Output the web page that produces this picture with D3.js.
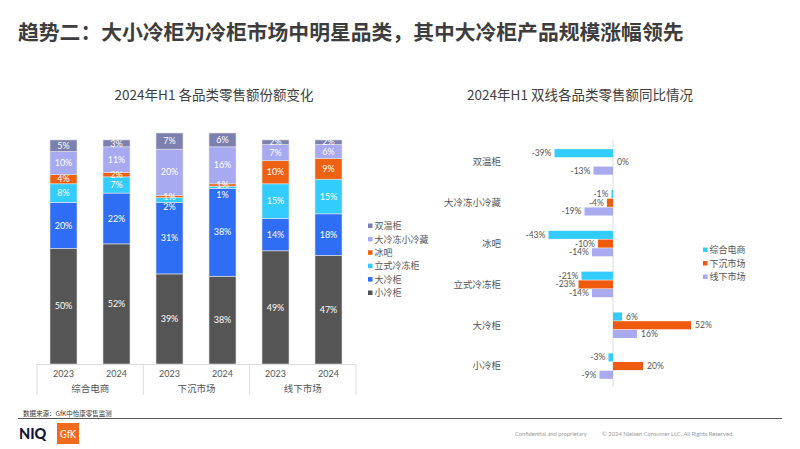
<!DOCTYPE html>
<html><head><meta charset="utf-8">
<script src="https://cdn.jsdelivr.net/npm/d3@7"></script>
<style>
body{margin:0;background:#fff;}
svg{display:block;font-family:"Noto Sans CJK SC","Noto Sans",sans-serif;}
.num{font-family:Lato,"Noto Sans CJK SC",sans-serif;}
</style></head>
<body>
<svg id="c" width="800" height="449"></svg>
<script>
// ---- Left chart data ----
const groups = ["综合电商", "下沉市场", "线下市场"];
const years = ["2023", "2024"];
const seriesNames = ["小冷柜", "大冷柜", "立式冷冻柜", "冰吧", "大冷冻小冷藏", "双温柜"];
const xiaoLengGui = [50, 52, 39, 38, 49, 47];
const daLengGui = [20, 22, 31, 38, 14, 18];
const liShiLengDong = [8, 7, 2, 1, 15, 15];
const bingBa = [4, 2, 1, 1, 10, 9];
const daLengDongXiao = [10, 11, 20, 16, 7, 6];
const shuangWenGui = [5, 3, 7, 6, 2, 2];
const seriesColors = ["#555555", "#2F6DF5", "#33CCFF", "#EF6112", "#A7A9F1", "#7C80AE"];

// ---- Right chart data ----
const rCategories = ["双温柜", "大冷冻小冷藏", "冰吧", "立式冷冻柜", "大冷柜", "小冷柜"];
const rSeriesNames = ["综合电商", "下沉市场", "线下市场"];
const zongHeDianShang = [-39, -1, -43, -21, 6, -3];
const xiaChenShiChang = [0, -4, -10, -23, 52, 20];
const xianXiaShiChang = [-13, -19, -14, -14, 16, -9];
const rColors = ["#33CCFF", "#EE5A0E", "#A9AAF0"];

const svg = d3.select("#c");

// Slide title
svg.append("text").attr("x", 18).attr("y", 40)
  .attr("font-size", 20.8).attr("font-weight", "bold").attr("fill", "#3d3d3d")
  .text("趋势二：大小冷柜为冷柜市场中明星品类，其中大冷柜产品规模涨幅领先");

// ================= Left chart =================
svg.append("text").attr("x", 214).attr("y", 100).attr("text-anchor", "middle")
  .attr("font-size", 13.5).attr("fill", "#404040").text("2024年H1 各品类零售额份额变化");

const barKeys = [];
groups.forEach(g => years.forEach(y => barKeys.push(g + "|" + y)));
const x = d3.scaleBand().domain(barKeys).range([37, 355]).paddingInner(0.49).paddingOuter(0.245);
const y = d3.scaleLinear().domain([0, 100]).range([364, 133]);

const seriesArr = [xiaoLengGui, daLengGui, liShiLengDong, bingBa, daLengDongXiao, shuangWenGui];
const rows = barKeys.map((k, i) => {
  const o = { key: k };
  seriesNames.forEach((s, j) => o[s] = seriesArr[j][i]);
  return o;
});
const stacked = d3.stack().keys(seriesNames)(rows);

const gL = svg.append("g");
stacked.forEach((layer, si) => {
  gL.selectAll(null).data(layer).enter().append("rect")
    .attr("x", d => x(d.data.key))
    .attr("y", d => y(d[1]))
    .attr("width", x.bandwidth())
    .attr("height", d => y(d[0]) - y(d[1]))
    .attr("fill", seriesColors[si])
    .attr("stroke", "#e4e4e4").attr("stroke-width", 0.6);
});

// labels with simple de-overlap per bar
barKeys.forEach((k, bi) => {
  const labs = [];
  stacked.forEach((layer, si) => {
    const d = layer[bi];
    labs.push({ v: d.data[seriesNames[si]], yy: y((d[0] + d[1]) / 2) });
  });
  labs.sort((a, b) => a.yy - b.yy);
  for (let i = 1; i < labs.length; i++) {
    if (labs[i].yy - labs[i - 1].yy < 10) labs[i].yy = labs[i - 1].yy + 10;
  }
  labs.forEach(l => {
    gL.append("text").attr("class", "num")
      .attr("x", x(k) + x.bandwidth() / 2).attr("y", l.yy)
      .attr("dy", "0.35em").attr("text-anchor", "middle")
      .attr("font-size", 9).attr("fill", "#fff").text(l.v + "%");
  });
});

// category axis
const axisColor = "#dcdcdc";
gL.append("line").attr("x1", 37).attr("x2", 356).attr("y1", 364.5).attr("y2", 364.5)
  .attr("stroke", axisColor);
const gStep = (356 - 37) / groups.length;
groups.forEach((g, gi) => {
  gL.append("line").attr("x1", 37 + gi * gStep).attr("x2", 37 + gi * gStep)
    .attr("y1", 364).attr("y2", 395).attr("stroke", axisColor);
  gL.append("text").attr("x", 37 + (gi + 0.5) * gStep).attr("y", 389).attr("dy", "0.35em")
    .attr("text-anchor", "middle").attr("font-size", 9.5).attr("fill", "#555").text(g);
});
gL.append("line").attr("x1", 356).attr("x2", 356).attr("y1", 364).attr("y2", 395).attr("stroke", axisColor);
barKeys.forEach(k => {
  gL.append("text").attr("class", "num")
    .attr("x", x(k) + x.bandwidth() / 2).attr("y", 373.5).attr("dy", "0.35em")
    .attr("text-anchor", "middle").attr("font-size", 9).attr("fill", "#555")
    .text(k.split("|")[1]);
});

// left legend (top item = last series)
const legL = svg.append("g");
seriesNames.slice().reverse().forEach((s, i) => {
  const si = seriesNames.length - 1 - i;
  const yy = 226 + i * 13.4;
  legL.append("rect").attr("x", 368).attr("y", yy - 2.5).attr("width", 4.5).attr("height", 4.5)
    .attr("fill", seriesColors[si]);
  legL.append("text").attr("x", 374.5).attr("y", yy).attr("dy", "0.35em")
    .attr("font-size", 9).attr("fill", "#555").text(s);
});

// ================= Right chart =================
svg.append("text").attr("x", 580).attr("y", 100).attr("text-anchor", "middle")
  .attr("font-size", 13.5).attr("fill", "#404040").text("2024年H1 双线各品类零售额同比情况");

const rx = d3.scaleLinear().domain([-50, 60]).range([538, 703]);
const ry = d3.scaleBand().domain(rCategories).range([141.5, 386.5]).paddingInner(0.36).paddingOuter(0.18);
const ryInner = d3.scaleBand().domain(rSeriesNames).range([0, ry.bandwidth()]);
const rSeriesArr = [zongHeDianShang, xiaChenShiChang, xianXiaShiChang];

const gR = svg.append("g");
gR.append("line").attr("x1", rx(0)).attr("x2", rx(0)).attr("y1", 140).attr("y2", 387)
  .attr("stroke", "#dedede");

rCategories.forEach((c, ci) => {
  gR.append("text").attr("x", 501).attr("y", ry(c) + ry.bandwidth() / 2).attr("dy", "0.35em")
    .attr("text-anchor", "end").attr("font-size", 9.5).attr("fill", "#555").text(c);
  rSeriesNames.forEach((s, si) => {
    const v = rSeriesArr[si][ci];
    const yy = ry(c) + ryInner(s);
    const h = ryInner.bandwidth();
    gR.append("rect")
      .attr("x", Math.min(rx(0), rx(v))).attr("y", yy + 0.3)
      .attr("width", Math.abs(rx(v) - rx(0))).attr("height", h - 0.6)
      .attr("fill", rColors[si]);
    const neg = v < 0;
    gR.append("text").attr("class", "num")
      .attr("x", neg ? rx(v) - 3 : rx(v) + 4).attr("y", yy + h / 2).attr("dy", "0.35em")
      .attr("text-anchor", neg ? "end" : "start")
      .attr("font-size", 8.6).attr("fill", "#555").text(v + "%");
  });
});

// right legend
rSeriesNames.forEach((s, i) => {
  const yy = 250 + i * 13.5;
  gR.append("rect").attr("x", 703).attr("y", yy - 2.5).attr("width", 4.5).attr("height", 4.5)
    .attr("fill", rColors[i]);
  gR.append("text").attr("x", 709.5).attr("y", yy).attr("dy", "0.35em")
    .attr("font-size", 9).attr("fill", "#555").text(s);
});

// ================= Footer =================
svg.append("text").attr("x", 23).attr("y", 414).attr("dy", "0.35em")
  .attr("font-size", 6.5).attr("fill", "#333").text("数据来源：GfK中怡康零售监测");
svg.append("line").attr("x1", 18).attr("x2", 782).attr("y1", 418.5).attr("y2", 418.5)
  .attr("stroke", "#555").attr("stroke-width", 1.2);
svg.append("text").attr("x", 19).attr("y", 439).attr("font-family", "Lato, 'Open Sans', sans-serif")
  .attr("font-weight", 900).attr("font-size", 14.5).attr("fill", "#15153a").text("NIQ");
svg.append("rect").attr("x", 57).attr("y", 423).attr("width", 22).attr("height", 21).attr("fill", "#F26B1D");
svg.append("text").attr("x", 68).attr("y", 438).attr("text-anchor", "middle")
  .attr("font-family", "'Liberation Sans Narrow','DejaVu Sans Condensed',sans-serif")
  .attr("font-size", 10).attr("fill", "#fff").text("GfK");
svg.append("text").attr("x", 515).attr("y", 434).attr("dy", "0.35em")
  .attr("font-family", "Lato, sans-serif").attr("font-size", 5.8).attr("fill", "#9a9a9a")
  .text("Confidential and proprietary");
svg.append("text").attr("x", 602).attr("y", 434).attr("dy", "0.35em")
  .attr("font-family", "Lato, sans-serif").attr("font-size", 5.8).attr("fill", "#9a9a9a")
  .text("© 2024 Nielsen Consumer LLC. All Rights Reserved.");
</script>
</body></html>
